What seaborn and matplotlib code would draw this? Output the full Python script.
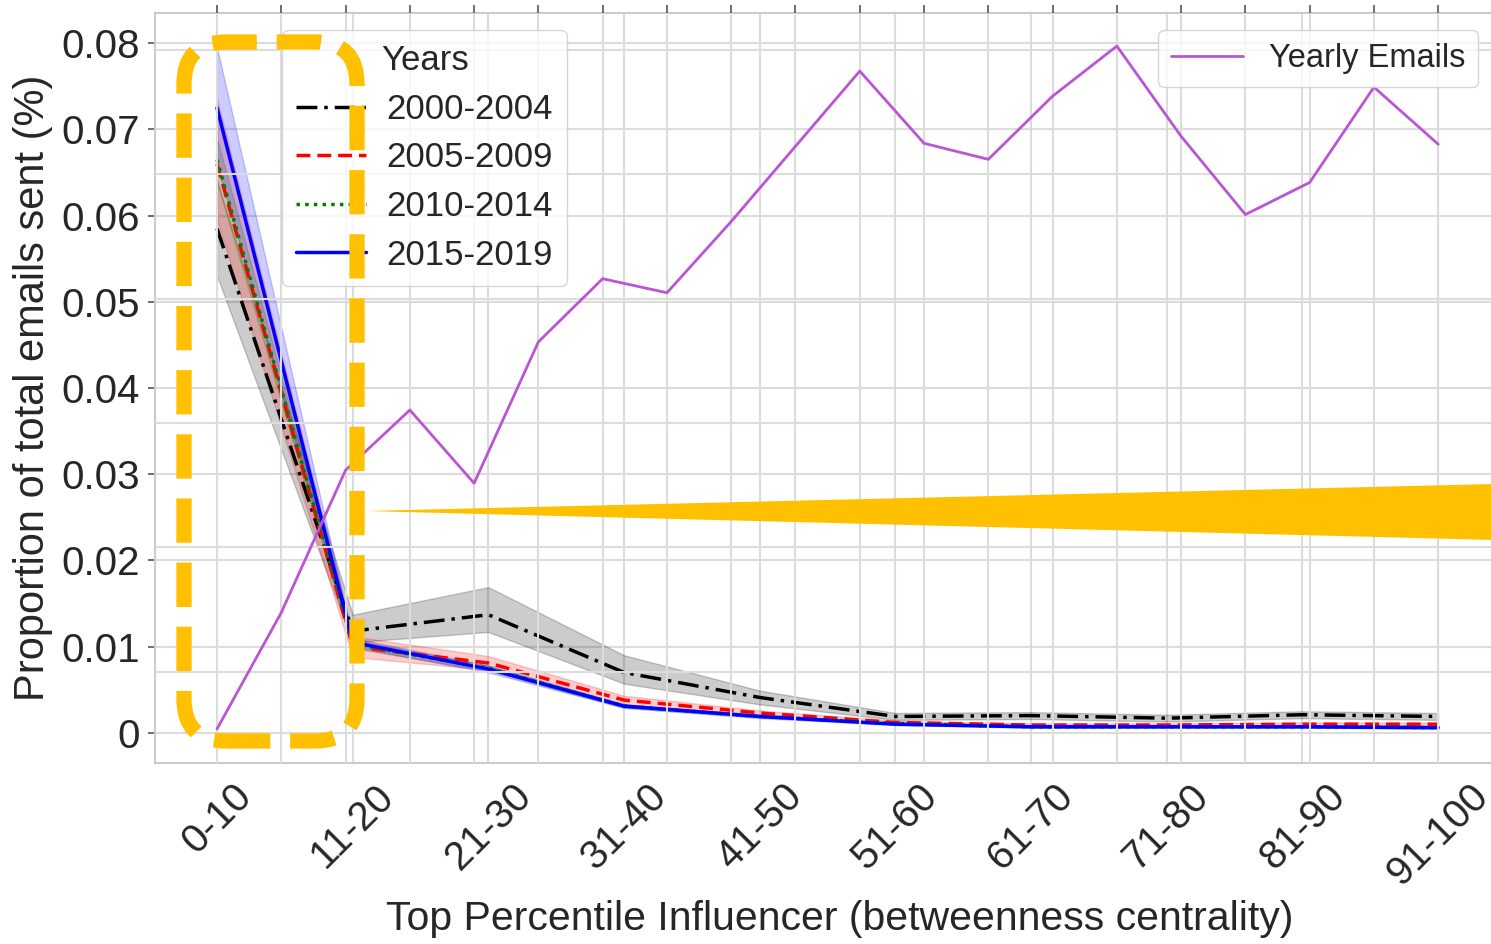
import pandas as pd
import seaborn as sns
import matplotlib.pyplot as plt
from matplotlib.patches import FancyBboxPatch, Polygon

# categories on the bottom axis
percentiles = ["0-10", "11-20", "21-30", "31-40", "41-50",
               "51-60", "61-70", "71-80", "81-90", "91-100"]
year_groups = ["2000-2004", "2005-2009", "2010-2014", "2015-2019"]

# median line + band (low / high) for every year group
mid_2000 = [0.0585, 0.0118, 0.0137, 0.0070, 0.0041, 0.0019, 0.0020, 0.0017, 0.0021, 0.0019]
lo_2000 = [0.0530, 0.0105, 0.0117, 0.0057, 0.0033, 0.0015, 0.0016, 0.0013, 0.0017, 0.0015]
hi_2000 = [0.0640, 0.0137, 0.0169, 0.0090, 0.0049, 0.0023, 0.0024, 0.0021, 0.0025, 0.0023]

mid_2005 = [0.0660, 0.0100, 0.0081, 0.0038, 0.0023, 0.0012, 0.0009, 0.0009, 0.0010, 0.0010]
lo_2005 = [0.0595, 0.0088, 0.0073, 0.0033, 0.0020, 0.0010, 0.0007, 0.0007, 0.0008, 0.0008]
hi_2005 = [0.0735, 0.0112, 0.0089, 0.0043, 0.0026, 0.0014, 0.0011, 0.0011, 0.0012, 0.0012]

mid_2010 = [0.0665, 0.0103, 0.0075, 0.0031, 0.0019, 0.0011, 0.0007, 0.0007, 0.0007, 0.0006]
lo_2010 = [0.0640, 0.0098, 0.0072, 0.0029, 0.0018, 0.0010, 0.0006, 0.0006, 0.0006, 0.0005]
hi_2010 = [0.0690, 0.0108, 0.0078, 0.0033, 0.0020, 0.0012, 0.0008, 0.0008, 0.0008, 0.0007]

mid_2015 = [0.0725, 0.0105, 0.0074, 0.0031, 0.0019, 0.0010, 0.0007, 0.0007, 0.0007, 0.0006]
lo_2015 = [0.0660, 0.0100, 0.0070, 0.0029, 0.0017, 0.0009, 0.0006, 0.0006, 0.0006, 0.0005]
hi_2015 = [0.0795, 0.0110, 0.0078, 0.0033, 0.0021, 0.0011, 0.0008, 0.0008, 0.0008, 0.0007]

# yearly email volume (secondary axes)
email_years = list(range(2000, 2020))
yearly_emails = [540, 1476, 2621, 3105, 2516, 3653, 4161, 4048, 4621, 5226,
                 5831, 5250, 5121, 5629, 6032, 5306, 4677, 4935, 5702, 5242]

ytick_vals = [0, 0.01, 0.02, 0.03, 0.04, 0.05, 0.06, 0.07, 0.08]
ytick_labels = ["0", "0.01", "0.02", "0.03", "0.04", "0.05", "0.06", "0.07", "0.08"]

series = {
    "2000-2004": (lo_2000, mid_2000, hi_2000),
    "2005-2009": (lo_2005, mid_2005, hi_2005),
    "2010-2014": (lo_2010, mid_2010, hi_2010),
    "2015-2019": (lo_2015, mid_2015, hi_2015),
}
rows = []
for grp, arrs in series.items():
    for arr in arrs:
        for p, v in zip(percentiles, arr):
            rows.append({"Percentile": p, "Proportion": v, "Years": grp})
df = pd.DataFrame(rows)
df["Percentile"] = pd.Categorical(df["Percentile"], categories=percentiles, ordered=True)

sns.set_theme(style="whitegrid")
plt.rcParams["font.family"] = ["Liberation Sans", "DejaVu Sans"]
plt.rcParams["grid.color"] = "#dcdcdc"
plt.rcParams["grid.linewidth"] = 1.5

fig = plt.figure(figsize=(14.91, 9.44), dpi=100)
rect = [155 / 1491, 1 - 763 / 944, (1525 - 155) / 1491, (763 - 13) / 944]
ax = fig.add_axes(rect)
ax2 = fig.add_axes(rect, facecolor="none")

palette = {"2000-2004": "black", "2005-2009": "red", "2010-2014": "green", "2015-2019": "blue"}
dashes = {"2000-2004": (6, 2, 1, 2), "2005-2009": (4, 2), "2010-2014": (1, 1.5), "2015-2019": ""}

sns.lineplot(data=df, x="Percentile", y="Proportion", hue="Years", style="Years",
             palette=palette, dashes=dashes, estimator="median",
             errorbar=lambda v: (v.min(), v.max()), lw=2.5, ax=ax)

ax.set_xlim(-0.457, 9.64)
ax.set_ylim(-0.0035, 0.0835)
ax.set_yticks(ytick_vals, ytick_labels)
ax.tick_params(axis="y", left=True, length=5, width=1.2, color="#555555", labelsize=29, pad=6)
ax.tick_params(axis="x", labelsize=29, pad=4)
plt.setp(ax.get_xticklabels(), rotation=45)
ax.set_xlabel("Top Percentile Influencer (betweenness centrality)", fontsize=29.5, labelpad=5)
ax.set_ylabel("Proportion of total emails sent (%)", fontsize=30, labelpad=6)
for s in ["left", "bottom", "top"]:
    ax.spines[s].set_visible(True)
    ax.spines[s].set_color("#cccccc")
    ax.spines[s].set_linewidth(1.5)

h, l = ax.get_legend_handles_labels()
ax.get_legend().remove()

# secondary axes with yearly emails
sns.lineplot(x=email_years, y=yearly_emails, color="#BA55D3", lw=2, label="Yearly Emails", ax=ax2)
ax2.set_xlim(2000 - 0.965, 2000 + 20.35)
ax2.set_ylim(266, 6298)
ax2.set_xticks(email_years)
ax2.set_yticks(range(1000, 7000, 1000))
ax2.tick_params(axis="x", top=True, bottom=False, labeltop=False, labelbottom=False,
                length=6, width=1.2, color="#555555")
ax2.tick_params(axis="y", left=False, right=False, labelleft=False, labelright=False)
ax2.grid(True)
for s in ax2.spines.values():
    s.set_visible(False)

leg1 = ax2.legend(h, l, title="Years", loc="upper left", bbox_to_anchor=(0.093, 0.977),
                  borderaxespad=0, fontsize=25, title_fontsize=25, labelspacing=0.45,
                  handlelength=2.0, handletextpad=0.6)
ax2.add_artist(leg1)
ax2.legend(loc="upper right", bbox_to_anchor=(0.966, 0.977), borderaxespad=0,
           fontsize=23.5, handlelength=2.2)

# yellow highlight annotations
box = FancyBboxPatch((1.84, 2.03), 1.73, 6.99, boxstyle="round,pad=0,rounding_size=0.42",
                     transform=fig.dpi_scale_trans, fill=False, edgecolor="#FFC000",
                     linewidth=11, linestyle=(0, (2.9, 1.3)), capstyle="butt")
fig.add_artist(box)
wedge = Polygon([(3.65, 4.33), (14.95, 4.60), (14.95, 4.04)], closed=True,
                transform=fig.dpi_scale_trans, facecolor="#FFC000", edgecolor="none")
fig.add_artist(wedge)

fig.savefig("out.png", dpi=100)
